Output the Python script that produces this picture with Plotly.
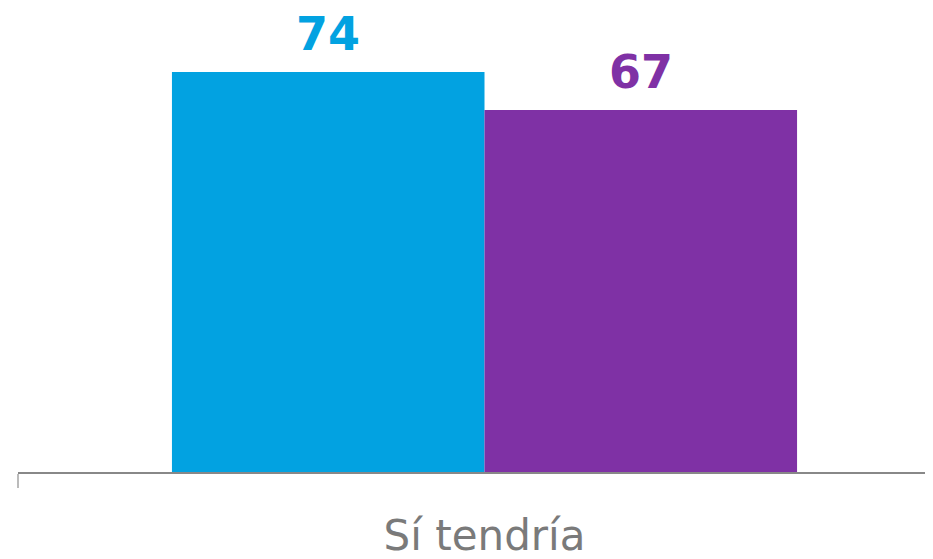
import plotly.graph_objects as go

categories = ["Sí tendría"]
series_names = ["Serie 1", "Serie 2"]
values_1 = [74]
values_2 = [67]
colors = ["#02A2E1", "#7F31A5"]

fig = go.Figure()
fig.add_trace(go.Bar(x=categories, y=values_1, name=series_names[0], marker_color=colors[0], marker_line_width=0))
fig.add_trace(go.Bar(x=categories, y=values_2, name=series_names[1], marker_color=colors[1], marker_line_width=0))

bargap = 0.33
half = (1 - bargap) / 2
for i, (vals, col) in enumerate([(values_1, colors[0]), (values_2, colors[1])]):
    offset = -half / 2 if i == 0 else half / 2
    for j, v in enumerate(vals):
        fig.add_annotation(x=j + offset, y=v, xref="x", yref="y", text=str(v),
                           showarrow=False, yanchor="bottom", yshift=10, borderpad=0,
                           font=dict(family="DejaVu Sans", size=46, color=col, weight="bold"))

fig.update_layout(
    width=925, height=551,
    margin=dict(l=10, r=0, t=0, b=87),
    barmode="group", bargap=bargap, bargroupgap=0,
    plot_bgcolor="white", paper_bgcolor="white",
    showlegend=False,
    xaxis=dict(range=[-0.5, 0.4807], showline=True, linecolor="#888888", linewidth=1.5,
               ticks="outside", tickson="boundaries", ticklen=14, tickcolor="#BBBBBB", tickwidth=1.5,
               tickfont=dict(family="DejaVu Sans", size=42, color="#7A7A7A"), showgrid=False,
               ticklabelstandoff=26),
    yaxis=dict(range=[0, 85.85], visible=False, showgrid=False),
)

fig.write_html("out.html")
